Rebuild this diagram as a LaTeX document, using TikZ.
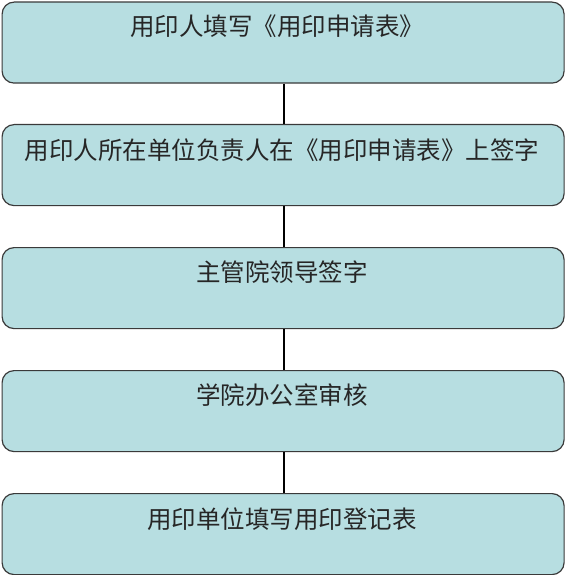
\documentclass[tikz,border=0pt]{standalone}
\usepackage{fontspec}
\newfontfamily\cjk{Noto Sans CJK SC}
\definecolor{boxfill}{HTML}{B7DEE1}
\definecolor{boxline}{HTML}{3A3A3A}
\begin{document}
\begin{tikzpicture}[x=1pt,y=-1pt,
  stepbox/.style={draw=boxline,line width=1.2pt,fill=boxfill,rounded corners=12pt,
    minimum width=562pt,minimum height=81pt,anchor=north west,inner sep=0pt},
  label/.style={font=\cjk\fontsize{24.5}{27}\selectfont,text=black!85,anchor=center},
  link/.style={draw=black,line width=2.4pt}]
\useasboundingbox (0,0) rectangle (565,575);
\node[stepbox] (b1) at (1.5,1.5) {};
\node[stepbox] (b2) at (1.5,124) {};
\node[stepbox] (b3) at (1.5,247) {};
\node[stepbox] (b4) at (1.5,370) {};
\node[stepbox] (b5) at (1.5,493) {};
\node[label] (t1) at (277,26) {用印人填写《用印申请表》};
\node[label] (t2) at (282,150) {用印人所在单位负责人在《用印申请表》上签字};
\node[label] (t3) at (282,272) {主管院领导签字};
\node[label] (t4) at (282,395) {学院办公室审核};
\node[label] (t5) at (282,519) {用印单位填写用印登记表};
\draw[link] ([xshift=1pt]b1.south) -- ([xshift=1pt]b2.north);
\draw[link] ([xshift=1pt]b2.south) -- ([xshift=1pt]b3.north);
\draw[link] ([xshift=1pt]b3.south) -- ([xshift=1pt]b4.north);
\draw[link] ([xshift=1pt]b4.south) -- ([xshift=1pt]b5.north);
\end{tikzpicture}
\end{document}
